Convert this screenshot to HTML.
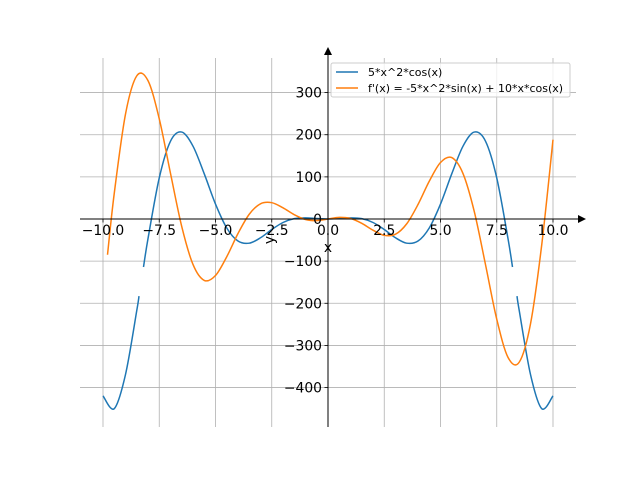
<!DOCTYPE html>
<html><head><meta charset="utf-8"><style>
html,body{margin:0;padding:0;background:#fff}
svg{display:block;font-family:"DejaVu Sans","Liberation Sans",sans-serif}
</style></head><body>
<svg id="chart" width="640" height="480" viewBox="0 0 640 480">
<g id="grid"></g>
<g id="series"></g>
<g id="axes"></g>
<text x="328" y="252" text-anchor="middle" font-size="13.9">x</text>
<text x="274" y="240" text-anchor="middle" font-size="13.9" transform="rotate(-90 274 240)">y</text>
<g>
<rect x="331" y="63" width="239" height="34" rx="2" fill="#fff" fill-opacity="0.8" stroke="#ccc"/>
<line x1="336" y1="72" x2="358" y2="72" stroke="#1f77b4" stroke-width="1.5"/>
<text x="368" y="76" font-size="11">5*x^2*cos(x)</text>
<line x1="336" y1="88" x2="358" y2="88" stroke="#ff7f0e" stroke-width="1.5"/>
<text x="368" y="92" font-size="11">f'(x) = -5*x^2*sin(x) + 10*x*cos(x)</text>
</g>
</svg>
<script>
const blueX=[-10,-9.5,-9,-8.5,-8.4,-8.3,-8.2,-8,-7.5,-7,-6.5,-6,-5.5,-5,-4.5,-4,-3.5,-3,-2.5,-2,-1.5,-1,-0.5,0,0.5,1,1.5,2,2.5,3,3.5,4,4.5,5,5.5,6,6.5,7,7.5,8,8.2,8.3,8.4,8.5,9,9.5,10];
const blueY=[-419.6,-450.0,-369.0,-217.5,-183,null,-114,-46.6,97.5,184.7,206.3,172.8,107.2,35.5,-21.3,-52.3,-57.4,-44.6,-25.0,-8.3,0.8,2.7,1.1,0,1.1,2.7,0.8,-8.3,-25.0,-44.6,-57.4,-52.3,-21.3,35.5,107.2,172.8,206.3,184.7,97.5,-46.6,-114,null,-183,-217.5,-369.0,-450.0,-419.6];
const orangeX=[-9.8,-9.5,-9,-8.5,-8,-7.5,-7,-6.5,-6,-5.5,-5,-4.5,-4,-3.5,-3,-2.5,-2,-1.5,-1,-0.5,0,0.5,1,1.5,2,2.5,3,3.5,4,4.5,5,5.5,6,6.5,7,7.5,8,8.5,9,9.5,10];
const orangeY=[-84.8,60.8,248.9,339.6,328.3,237.8,108.2,-18.0,-107.9,-145.7,-134.1,-89.5,-34.4,11.3,36.1,38.7,26.5,10.2,-1.2,-3.8,0,3.8,1.2,-10.2,-26.5,-38.7,-36.1,-11.3,34.4,89.5,134.1,145.7,107.9,18.0,-108.2,-237.8,-328.3,-339.6,-248.9,-60.8,188.1];
const xTicks=[-10,-7.5,-5,-2.5,0,2.5,5,7.5,10];
const xTickLabels=["\u221210.0","\u22127.5","\u22125.0","\u22122.5","0.0","2.5","5.0","7.5","10.0"];
const yTicks=[-400,-300,-200,-100,0,100,200,300];
const yTickLabels=["\u2212400","\u2212300","\u2212200","\u2212100","0","100","200","300"];

const NS="http://www.w3.org/2000/svg";
const L=80,R=576,T=58,B=427;
const sx=v=>328+v*22.5;
const sy=v=>219-v*0.42143;
function mk(tag,attrs,parent){const e=document.createElementNS(NS,tag);for(const k in attrs)e.setAttribute(k,attrs[k]);parent.appendChild(e);return e;}
const grid=document.getElementById('grid'),axes=document.getElementById('axes'),series=document.getElementById('series');
xTicks.forEach((t,i)=>{
  const g=mk('line',{x1:sx(t),x2:sx(t),y1:T,y2:B,stroke:'#b0b0b0','stroke-width':0.8},grid);
  
  
  const tk=mk('line',{x1:sx(t),x2:sx(t),y1:219,y2:222.5,stroke:'#000','stroke-width':0.8},axes);
  
  
  const tx=mk('text',{x:sx(t),y:235,'text-anchor':'middle','font-size':13.9},axes);
  tx.textContent=xTickLabels[i];
  
  
});
yTicks.forEach((t,i)=>{
  const g=mk('line',{x1:L,x2:R,y1:sy(t),y2:sy(t),stroke:'#b0b0b0','stroke-width':0.8},grid);
  
  
  const tk=mk('line',{x1:324.5,x2:328,y1:sy(t),y2:sy(t),stroke:'#000','stroke-width':0.8},axes);
  
  
  const tx=mk('text',{x:322,y:sy(t)+5,'text-anchor':'end','font-size':13.9},axes);
  tx.textContent=yTickLabels[i];
  
  
});
const xs=mk('line',{x1:L,x2:580,y1:219,y2:219,stroke:'#000','stroke-width':1},axes);


const xa=mk('polygon',{points:'578,215 586,219 578,223',fill:'#000'},axes);


const ys=mk('line',{x1:328,x2:328,y1:B,y2:53,stroke:'#000','stroke-width':1},axes);


const ya=mk('polygon',{points:'324,55 328,47 332,55',fill:'#000'},axes);



function pathFor(X,Y){
  let d='';let seg=[];
  const flush=()=>{
    if(!seg.length)return;
    const p=seg.map(i=>[sx(X[i]),sy(Y[i])]);
    d+='M'+p[0][0]+','+p[0][1];
    for(let k=0;k<p.length-1;k++){
      const p0=p[Math.max(0,k-1)],p1=p[k],p2=p[k+1],p3=p[Math.min(p.length-1,k+2)];
      const c1=[p1[0]+(p2[0]-p0[0])/6,p1[1]+(p2[1]-p0[1])/6];
      const c2=[p2[0]-(p3[0]-p1[0])/6,p2[1]-(p3[1]-p1[1])/6];
      d+='C'+c1[0]+','+c1[1]+' '+c2[0]+','+c2[1]+' '+p2[0]+','+p2[1];
    }
    seg=[];
  };
  for(let i=0;i<X.length;i++){if(Y[i]===null)flush();else seg.push(i);}
  flush();
  return d;
}
const pb=mk('path',{d:pathFor(blueX,blueY),fill:'none',stroke:'#1f77b4','stroke-width':1.5},series);


const po=mk('path',{d:pathFor(orangeX,orangeY),fill:'none',stroke:'#ff7f0e','stroke-width':1.5},series);


</script>
</body></html>
